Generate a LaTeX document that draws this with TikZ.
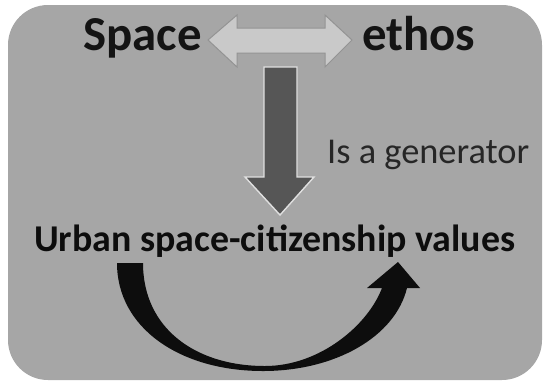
\documentclass[tikz,border=0pt]{standalone}
\usepackage{fontspec}
\setmainfont{Carlito}
\usetikzlibrary{positioning}
\definecolor{panelgray}{HTML}{A6A6A6}
\definecolor{lightarrow}{HTML}{C9C9C9}
\definecolor{darkarrow}{HTML}{565656}
\definecolor{inkgray}{HTML}{262626}
\tikzset{
  bigword/.style={font=\fontsize{49}{49}\selectfont\bfseries, text=black!92, inner sep=0pt, anchor=base west},
  valword/.style={font=\fontsize{38}{38}\selectfont\bfseries, text=black!95, inner sep=0pt, anchor=base west},
  genword/.style={font=\fontsize{36.5}{36.5}\selectfont, text=inkgray, inner sep=0pt, anchor=base west},
}

\begin{document}
\begin{tikzpicture}[x=1bp,y=-1bp]
\useasboundingbox (0,0) rectangle (543,381);
\fill[panelgray, rounded corners=40bp] (8,5) rectangle (542,380);

% words
\node[bigword] (space) at (83,50) {Space};
\node[bigword] (ethos) at (362,50) {ethos};
\node[genword] (gen) at (327,163) {Is a generator};
\node[valword] (urban) at (34,251) {Urban space-citizenship values};

% two-way arrow between the words
\draw[fill=lightarrow, draw=gray!85, line width=1bp]
  (208,40) -- (237,15) -- (237,28) -- (325,28) -- (325,15) -- (352,40)
  -- (325,67) -- (325,53) -- (237,53) -- (237,67) -- cycle;

% down arrow
\draw[fill=darkarrow, draw=white!88!black, line width=1.4bp]
  (264,67) -- (297,67) -- (297,177) -- (314,177) -- (280,215) -- (245,177)
  -- (264,177) -- cycle;

% curved arrow under the values
\fill[black!95]
  (117,263) -- (143,263)
  .. controls (143,328) and (195,366) .. (265,366)
  .. controls (320,366) and (368,325) .. (382,288)
  -- (367,288) -- (398,262) -- (420,288) -- (407,288)
  .. controls (395,337) and (335,371) .. (263,371)
  .. controls (180,371) and (117,328) .. cycle;
\end{tikzpicture}
\end{document}
